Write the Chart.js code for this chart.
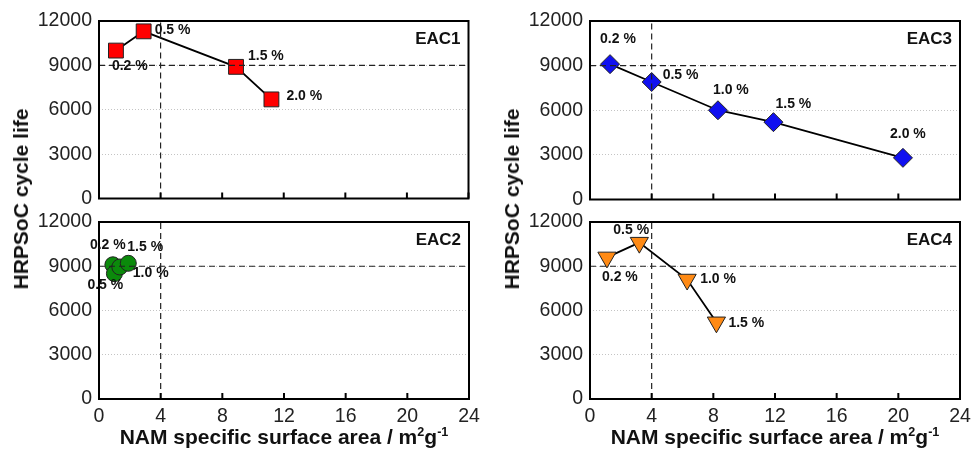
<!DOCTYPE html>
<html>
<head>
<meta charset="utf-8">
<script src="https://cdn.jsdelivr.net/npm/chart.js@4"></script>
<style>
  body { margin: 0; background: #fff; }
  #fig { position: relative; width: 974px; height: 452px; font-family: Arial, "Liberation Sans", sans-serif; color: #111; }
  #fig canvas { position: absolute; }
  .ytitle { position: absolute; top: 199px; font-weight: bold; font-size: 21px; white-space: nowrap; transform: translate(-50%, -50%) rotate(-90deg); }
  .xtitle { position: absolute; top: 437px; font-weight: bold; font-size: 21px; white-space: nowrap; transform: translate(-50%, -50%); }
  .xtitle sup { font-size: 60%; line-height: 0; vertical-align: 0.65em; }
</style>
</head>
<body>
<div id="fig">
  <canvas id="eac1" width="480" height="210" style="left:0;top:0"></canvas>
  <canvas id="eac2" width="480" height="220" style="left:0;top:210px"></canvas>
  <canvas id="eac3" width="484" height="210" style="left:490px;top:0"></canvas>
  <canvas id="eac4" width="484" height="220" style="left:490px;top:210px"></canvas>
  <div class="ytitle" style="left:21px">HRPSoC cycle life</div>
  <div class="ytitle" style="left:512px">HRPSoC cycle life</div>
  <div class="xtitle" style="left:284px">NAM specific surface area / m<sup>2</sup>g<sup>-1</sup></div>
  <div class="xtitle" style="left:775px">NAM specific surface area / m<sup>2</sup>g<sup>-1</sup></div>
</div>
<script>
const xTicks = [0, 4, 8, 12, 16, 20, 24];
const yTicks = [0, 3000, 6000, 9000, 12000];

const eac1Area = [1.1, 2.9, 8.9, 11.2];
const eac1Life = [10000, 11300, 8900, 6700];
const eac1Labels = ['0.2 %', '0.5 %', '1.5 %', '2.0 %'];

const eac2Area = [0.9, 1.0, 1.35, 1.9];
const eac2Life = [9100, 8500, 8950, 9200];
const eac2Labels = ['0.2 %', '0.5 %', '1.0 %', '1.5 %'];

const eac3Area = [1.3, 4.0, 8.3, 11.9, 20.3];
const eac3Life = [9100, 7900, 6000, 5200, 2800];
const eac3Labels = ['0.2 %', '0.5 %', '1.0 %', '1.5 %', '2.0 %'];

const eac4Area = [1.1, 3.2, 6.3, 8.2];
const eac4Life = [9600, 10600, 8100, 5200];
const eac4Labels = ['0.2 %', '0.5 %', '1.0 %', '1.5 %'];

// dashed guide lines
const refArea = 4;
const refLife = 9000;

// where each percentage label sits relative to its marker (px)
const eac1Offsets = [[-4, 16], [11, -1], [12, -11], [15, -3]];
const eac2Offsets = [[-23, -20], [-27, 12], [13, 6], [-1, -16]];
const eac3Offsets = [[-10, -25], [11, -7], [-5, -20], [2, -18], [-13, -24]];
const eac4Offsets = [[-5, 20], [-26, -13], [13, 0], [12, 1]];

const FONT = 'Arial, "Liberation Sans", sans-serif';
Chart.defaults.font.family = FONT;
Chart.defaults.font.size = 19.5;
Chart.defaults.color = '#222';

function decor(name, labels, offsets) {
  return {
    id: 'decor',
    afterDraw(chart) {
      const { ctx, chartArea: a, scales } = chart;
      ctx.save();
      ctx.strokeStyle = '#000';
      ctx.lineWidth = 2;
      ctx.beginPath();
      scales.x.ticks.forEach(t => {
        const px = scales.x.getPixelForValue(t.value);
        ctx.moveTo(px, a.bottom);
        ctx.lineTo(px, a.bottom - 6);
      });
      ctx.stroke();
      ctx.strokeRect(a.left, a.top, a.right - a.left, a.bottom - a.top);

      ctx.fillStyle = '#111';
      ctx.font = 'bold 17px ' + FONT;
      ctx.textAlign = 'right';
      ctx.textBaseline = 'middle';
      ctx.fillText(name, a.right - 8, a.top + 18);

      ctx.font = 'bold 14px ' + FONT;
      ctx.textAlign = 'left';
      chart.getDatasetMeta(2).data.forEach((pt, i) => {
        ctx.fillText(labels[i], pt.x + offsets[i][0], pt.y + offsets[i][1]);
      });
      ctx.restore();
    }
  };
}

function guide(points) {
  return {
    data: points,
    showLine: true,
    borderColor: '#222',
    borderWidth: 1.2,
    borderDash: [6, 4],
    pointRadius: 0
  };
}

function panel(id, p) {
  new Chart(document.getElementById(id), {
    type: 'scatter',
    data: {
      datasets: [
        guide([{ x: refArea, y: 0 }, { x: refArea, y: 12000 }]),
        guide([{ x: 0, y: refLife }, { x: 24, y: refLife }]),
        {
          data: p.area.map((x, i) => ({ x, y: p.life[i] })),
          showLine: true,
          borderColor: '#000',
          borderWidth: 1.8,
          pointStyle: p.style,
          pointRadius: p.radius,
          pointRotation: p.rotation || 0,
          pointBackgroundColor: p.color,
          pointBorderColor: '#222',
          pointBorderWidth: 1
        }
      ]
    },
    options: {
      responsive: false,
      animation: false,
      events: [],
      layout: { padding: { left: 0, top: p.top, right: p.right, bottom: p.bottom } },
      plugins: { legend: { display: false }, tooltip: { enabled: false } },
      scales: {
        x: {
          type: 'linear',
          min: 0,
          max: 24,
          afterBuildTicks: s => { s.ticks = xTicks.map(v => ({ value: v })); },
          afterFit: s => { s.height = p.xHeight; s.paddingLeft = 0; s.paddingRight = 0; },
          grid: { display: false, drawTicks: false },
          border: { display: false },
          ticks: { display: p.showX, padding: 6, maxRotation: 0, callback: v => String(v) }
        },
        y: {
          min: 0,
          max: 12000,
          afterBuildTicks: s => { s.ticks = yTicks.map(v => ({ value: v })); },
          afterFit: s => { s.width = p.yWidth; s.paddingTop = 0; s.paddingBottom = 0; },
          grid: { color: '#c4c4c4', lineWidth: 1, drawTicks: false },
          border: { display: false, dash: [1, 2] },
          ticks: { padding: 7, callback: v => String(v) }
        }
      }
    },
    plugins: [decor(p.name, p.labels, p.offsets)]
  });
}

panel('eac1', {
  name: 'EAC1', area: eac1Area, life: eac1Life, labels: eac1Labels, offsets: eac1Offsets,
  style: 'rect', radius: 10.5, color: '#ff0000',
  top: 21, right: 11, bottom: 10, xHeight: 0, yWidth: 99, showX: false
});
panel('eac2', {
  name: 'EAC2', area: eac2Area, life: eac2Life, labels: eac2Labels, offsets: eac2Offsets,
  style: 'circle', radius: 8, color: '#0b8a0b',
  top: 12, right: 11, bottom: 0, xHeight: 31, yWidth: 99, showX: true
});
panel('eac3', {
  name: 'EAC3', area: eac3Area, life: eac3Life, labels: eac3Labels, offsets: eac3Offsets,
  style: 'rectRot', radius: 9.5, color: '#1010f0',
  top: 21, right: 14, bottom: 10, xHeight: 0, yWidth: 100, showX: false
});
panel('eac4', {
  name: 'EAC4', area: eac4Area, life: eac4Life, labels: eac4Labels, offsets: eac4Offsets,
  style: 'triangle', radius: 10.5, rotation: 180, color: '#ff8a14',
  top: 12, right: 14, bottom: 0, xHeight: 31, yWidth: 100, showX: true
});
</script>
</body>
</html>
